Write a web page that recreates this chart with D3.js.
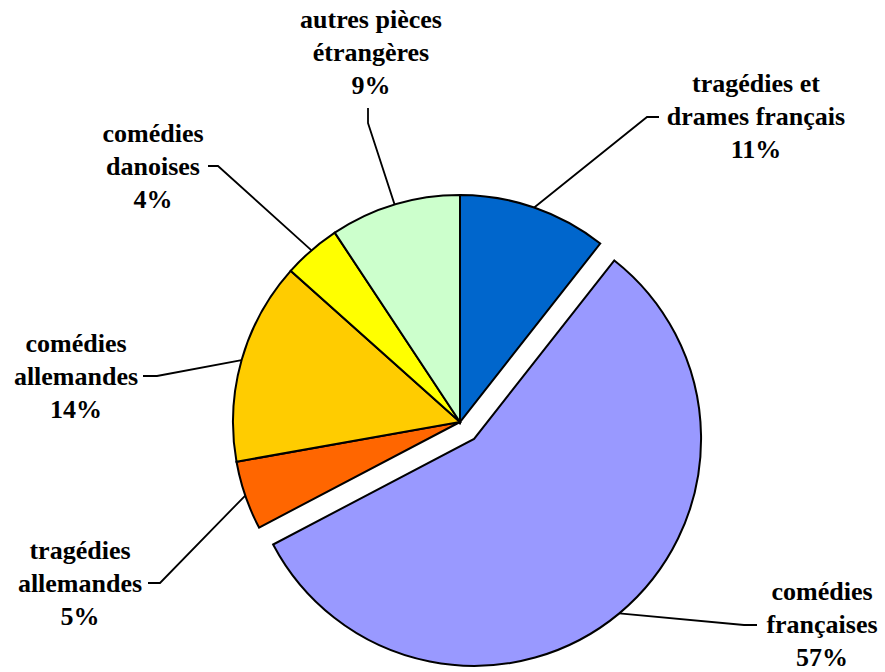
<!DOCTYPE html>
<html>
<head>
    <meta charset="utf-8">
    <style>
        body {
            margin: 0;
            background: #fff;
        }
        svg {
            display: block;
        }
        .leader {
            fill: none;
            stroke: #000;
            stroke-width: 1.8px;
        }
    </style>
</head>
<body>
    <svg width="885" height="672"></svg>

<script src="https://d3js.org/d3.v7.min.js"></script>
<script>
    // slices, clockwise from 12 o'clock
    let categories = ["tragédies et drames français", "comédies françaises", "tragédies allemandes",
        "comédies allemandes", "comédies danoises", "autres pièces étrangères"];
    let values = [10.6, 56.7, 4.9, 14.4, 4.1, 9.3];
    let labelLines = [
        ["tragédies et", "drames français"],
        ["comédies", "françaises"],
        ["tragédies", "allemandes"],
        ["comédies", "allemandes"],
        ["comédies", "danoises"],
        ["autres pièces", "étrangères"]
    ];
    let colors = ["#0066CC", "#9999FF", "#FF6600", "#FFCC00", "#FFFF00", "#CCFFCC"];
    let exploded = "comédies françaises";

    let data = categories.map((c, i) => ({ name: c, value: values[i], lines: labelLines[i] }));

    // hand placed labels (text centre x, first baseline) and leader bends
    let labelLayout = {
        "tragédies et drames français": { x: 756, y: 92, bend: [647, 117], end: [659, 117] },
        "comédies françaises": { x: 822, y: 600, bend: [744, 625], end: [757, 625] },
        "tragédies allemandes": { x: 80, y: 559, bend: [160, 583], end: [148, 583] },
        "comédies allemandes": { x: 76, y: 352, bend: [157, 376], end: [143, 376] },
        "comédies danoises": { x: 153, y: 142, bend: [218, 166], end: [208, 166] },
        "autres pièces étrangères": { x: 371, y: 28, bend: [368, 123], end: [368, 108] }
    };

    let svg = d3.select("svg");
    let cx = 460, cy = 422, radius = 227, explode = 22, lineGap = 33;

    let color = d3.scaleOrdinal().domain(categories).range(colors);

    let pie = d3.pie().value(d => d.value).sort(null);
    let arc = d3.arc().innerRadius(0).outerRadius(radius);

    let arcs = pie(data);

    function shift(d) {
        if (d.data.name !== exploded) return [0, 0];
        let a = (d.startAngle + d.endAngle) / 2;
        return [Math.sin(a) * explode, -Math.cos(a) * explode];
    }

    let g = svg.append("g").attr("transform", `translate(${cx},${cy})`);

    g.selectAll("path")
        .data(arcs)
        .join("path")
        .attr("transform", d => `translate(${shift(d)})`)
        .attr("d", arc)
        .attr("fill", d => color(d.data.name))
        .attr("stroke", "#000")
        .attr("stroke-width", 2)
        .attr("stroke-linejoin", "miter");

    // leader lines from the middle of each slice's rim
    svg.selectAll(".leader")
        .data(arcs)
        .join("polyline")
        .attr("class", "leader")
        .attr("points", d => {
            let a = (d.startAngle + d.endAngle) / 2;
            let s = shift(d);
            let p0 = [cx + s[0] + Math.sin(a) * radius, cy + s[1] - Math.cos(a) * radius];
            let L = labelLayout[d.data.name];
            return [p0, L.bend, L.end].map(p => p.join(",")).join(" ");
        });

    let labels = svg.selectAll(".label")
        .data(arcs)
        .join("text")
        .attr("class", "label")
        .attr("text-anchor", "middle")
        .attr("font-family", "'Liberation Serif', 'Times New Roman', serif")
        .attr("font-weight", "bold")
        .attr("font-size", "26px")
        .attr("fill", "#000")
        .attr("x", d => labelLayout[d.data.name].x)
        .attr("y", d => labelLayout[d.data.name].y);

    labels.each(function (d) {
        let L = labelLayout[d.data.name];
        let t = d3.select(this);
        let rows = d.data.lines.concat([d3.format(".0f")(d.data.value) + "%"]);
        rows.forEach((r, i) => {
            t.append("tspan")
                .attr("x", L.x)
                .attr("y", L.y + i * lineGap)
                .text(r);
        });
    });
</script>
</body>
</html>
